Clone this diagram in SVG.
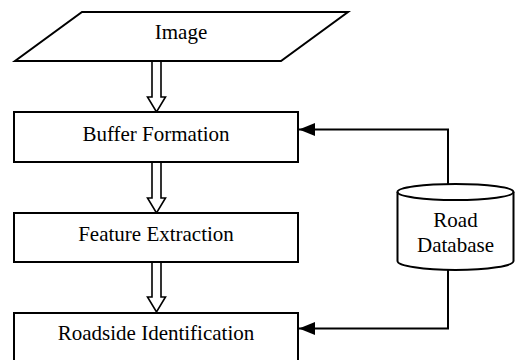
<svg xmlns="http://www.w3.org/2000/svg" width="515" height="360" viewBox="0 0 515 360">
<style>
.shape{fill:#fff;stroke:#000;stroke-width:2}
.conn{fill:none;stroke:#000;stroke-width:2}
.hollow{fill:#fff;stroke:#000;stroke-width:1.6;stroke-linejoin:miter}
.lbl{font-family:'Liberation Serif','Times New Roman',serif;font-size:21px;fill:#000;text-anchor:middle}
</style>
<defs>
<marker id="ah" markerWidth="16" markerHeight="13" refX="16" refY="6.5" orient="auto" markerUnits="userSpaceOnUse">
<path d="M16,6.5 L0,0 L0,13 Z" fill="#000"/>
</marker>
</defs>
<rect width="515" height="360" fill="#fff"/>
<g id="connectors">
<path class="hollow" d="M152,61 V97 H147.5 L156.5,112 L165.5,97 H161 V61"/>
<path class="hollow" d="M152,162 V198 H147.5 L156.5,213 L165.5,198 H161 V162"/>
<path class="hollow" d="M152,262 V297 H147.5 L156.5,312 L165.5,297 H161 V262"/>
<path class="conn" d="M448,185 V129.5 H299" marker-end="url(#ah)"/>
<path class="conn" d="M448,270 V328.5 H299" marker-end="url(#ah)"/>
</g>
<g id="image">
<path class="shape" d="M82,12 H348 L281,61 H15 Z"/>
<text class="lbl" x="181" y="39">Image</text>
</g>
<g id="buffer">
<rect class="shape" x="14" y="112" width="284" height="50"/>
<text class="lbl" x="156" y="141">Buffer Formation</text>
</g>
<g id="feature">
<rect class="shape" x="14" y="213" width="284" height="49"/>
<text class="lbl" x="156" y="241">Feature Extraction</text>
</g>
<g id="roadside">
<rect class="shape" x="14" y="313" width="284" height="60"/>
<text class="lbl" x="156" y="340">Roadside Identification</text>
</g>
<g id="database">
<path class="shape" d="M397.5,192 A58,8 0 0 1 513.5,192 V261 A58,9 0 0 1 397.5,261 Z"/>
<path class="conn" d="M397.5,192 A58,8 0 0 0 513.5,192"/>
<text class="lbl" x="455.5" y="227">Road</text>
<text class="lbl" x="455.5" y="252">Database</text>
</g>
</svg>
